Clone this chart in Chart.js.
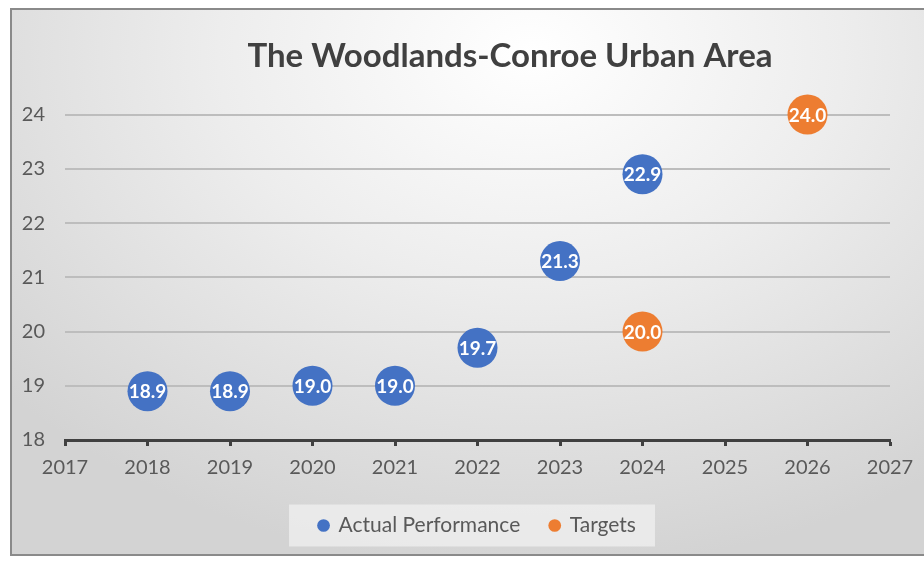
<!DOCTYPE html>
<html>
<head>
<meta charset="utf-8">
<script src="https://cdn.jsdelivr.net/npm/chart.js@4.4.1/dist/chart.umd.min.js"></script>
<style>
  html, body { margin: 0; padding: 0; background: #ffffff; width: 924px; height: 563px; overflow: hidden; }
  #frame {
    position: absolute; left: 10px; top: 8px; width: 930px; height: 548px;
    border: 2px solid #8a8a8a; box-sizing: border-box;
    background: radial-gradient(ellipse 75% 95% at 56% 8%, #ffffff 0%, #ededed 45%, #d3d3d3 100%);
  }
  #wrap { position: absolute; left: 0; top: 0; width: 924px; height: 563px; }
</style>
</head>
<body>
<div id="frame"></div>
<div id="wrap"><canvas id="c" width="924" height="563"></canvas></div>
<script>
const titleText = 'The Woodlands-Conroe Urban Area';
const actualLabel = 'Actual Performance';
const targetLabel = 'Targets';
const actualYears = [2018, 2019, 2020, 2021, 2022, 2023, 2024];
const actualValues = [18.9, 18.9, 19.0, 19.0, 19.7, 21.3, 22.9];
const targetYears = [2024, 2026];
const targetValues = [20.0, 24.0];
const xMin = 2017, xMax = 2027;
const yMin = 18, yMax = 24;

const FONT = 'Lato, "Open Sans", sans-serif';
const toPoints = (xs, ys) => xs.map((x, i) => ({ x: x, y: ys[i] }));

const labelPlugin = {
  id: 'pointLabels',
  afterDatasetsDraw(chart) {
    const ctx = chart.ctx;
    ctx.save();
    ctx.font = 'bold 19px ' + FONT;
    ctx.fillStyle = '#ffffff';
    ctx.textAlign = 'center';
    ctx.textBaseline = 'middle';
    chart.data.datasets.forEach((ds, di) => {
      const meta = chart.getDatasetMeta(di);
      meta.data.forEach((el, i) => {
        ctx.fillText(ds.data[i].y.toFixed(1), el.x, el.y + 1);
      });
    });
    ctx.restore();
  }
};

const legendBgPlugin = {
  id: 'legendBg',
  beforeDraw(chart) {
    const lg = chart.legend;
    if (!lg || !lg.legendHitBoxes || !lg.legendHitBoxes.length) return;
    const boxes = lg.legendHitBoxes;
    const l = Math.min(...boxes.map(b => b.left));
    const r = Math.max(...boxes.map(b => b.left + b.width));
    const t = Math.min(...boxes.map(b => b.top));
    const b = Math.max(...boxes.map(b => b.top + b.height));
    const ctx = chart.ctx;
    ctx.save();
    ctx.fillStyle = 'rgba(240,240,240,0.75)';
    ctx.fillRect(l - 30, (t + b) / 2 - 21, (r - l) + 49, 42);
    ctx.restore();
  }
};

const titleShiftPlugin = {
  id: 'titleShift',
  afterLayout(chart) {
    const tb = chart.titleBlock;
    if (tb) { tb.left += 65; tb.right += 65; }
  }
};

new Chart(document.getElementById('c'), {
  type: 'scatter',
  data: {
    datasets: [
      {
        label: actualLabel,
        data: toPoints(actualYears, actualValues),
        backgroundColor: '#4472C4',
        borderColor: '#4472C4',
        pointRadius: 20,
        pointHoverRadius: 20,
        borderWidth: 0,
        clip: false
      },
      {
        label: targetLabel,
        data: toPoints(targetYears, targetValues),
        backgroundColor: '#ED7D31',
        borderColor: '#ED7D31',
        pointRadius: 20,
        pointHoverRadius: 20,
        borderWidth: 0,
        clip: false
      }
    ]
  },
  options: {
    responsive: false,
    animation: false,
    events: [],
    layout: { padding: { left: 0, right: 34, top: 0, bottom: 17 } },
    scales: {
      x: {
        type: 'linear',
        min: xMin, max: xMax,
        ticks: {
          stepSize: 1,
          color: '#595959',
          font: { family: FONT, size: 20 },
          padding: 10,
          callback: v => String(v)
        },
        grid: {
          drawOnChartArea: false,
          drawTicks: true,
          tickLength: 6,
          tickWidth: 3,
          tickColor: '#404040'
        },
        border: { display: true, color: '#404040', width: 3 },
        afterFit: s => { s.height = 45; }
      },
      y: {
        min: yMin, max: yMax,
        ticks: {
          stepSize: 1,
          color: '#595959',
          font: { family: FONT, size: 20 },
          padding: 20
        },
        grid: { color: '#bdbdbd', lineWidth: 2, drawTicks: false },
        border: { display: false },
        afterFit: s => { s.width = 65; }
      }
    },
    plugins: {
      title: {
        display: true,
        text: titleText,
        color: '#404040',
        font: { family: FONT, size: 33, weight: 'bold' },
        padding: { top: 37, bottom: 38 }
      },
      legend: {
        position: 'bottom',
        fullSize: false,
        labels: {
          usePointStyle: true,
          pointStyle: 'circle',
          boxWidth: 9,
          boxHeight: 9,
          padding: 30,
          color: '#595959',
          font: { family: FONT, size: 21 }
        }
      },
      tooltip: { enabled: false }
    }
  },
  plugins: [labelPlugin, legendBgPlugin, titleShiftPlugin]
});
</script>
</body>
</html>
